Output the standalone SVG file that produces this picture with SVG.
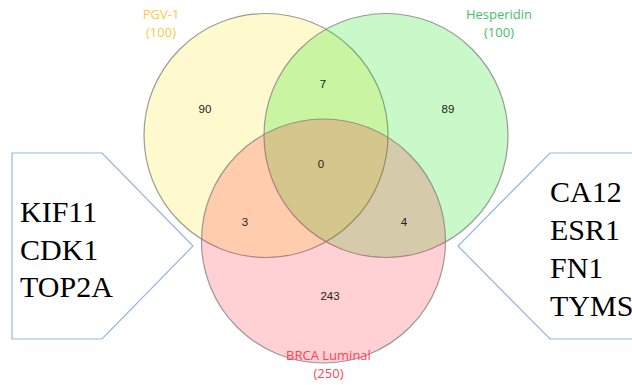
<svg xmlns="http://www.w3.org/2000/svg" width="632" height="385" viewBox="0 0 632 385">
<style>
.set{stroke:#8a8a8a;stroke-width:1.2;stroke-opacity:0.85}
.num{font-family:"Liberation Sans",Arial,sans-serif;font-size:11.5px;fill:#222;text-anchor:middle}
.lab{font-family:"Open Sans","Noto Sans",sans-serif;font-size:13px;text-anchor:middle}
.box{fill:#fff;stroke:#8fb7e3;stroke-width:1.2}
.gene{font-family:"Liberation Serif","Times New Roman",serif;font-size:30px;fill:#000}
</style>
<rect width="632" height="385" fill="#fff"/>
<g id="box-left">
<polygon class="box" points="12,153 102,153 193,246 102,339 12,339"/>
<text class="gene" x="20" y="222">KIF11</text>
<text class="gene" x="20" y="259.5">CDK1</text>
<text class="gene" x="20" y="297">TOP2A</text>
</g>
<g id="box-right">
<polygon class="box" points="640,153 550,153 458,246 550,339 640,339"/>
<text class="gene" x="550" y="202">CA12</text>
<text class="gene" x="550" y="240">ESR1</text>
<text class="gene" x="550" y="278">FN1</text>
<text class="gene" x="550" y="316">TYMS</text>
</g>
<g id="set-pgv1">
<circle class="set" cx="266" cy="135.5" r="122" fill="#ffeb3b" fill-opacity="0.25"/>
<text class="lab" x="161" y="19" fill="#ffc843">PGV-1</text>
<text class="lab" x="161" y="37" fill="#ffc843">(100)</text>
</g>
<g id="set-hesperidin">
<circle class="set" cx="386" cy="135.5" r="122" fill="#00e000" fill-opacity="0.21"/>
<text class="lab" x="499" y="19" fill="#45c068">Hesperidin</text>
<text class="lab" x="499" y="37" fill="#45c068">(100)</text>
</g>
<g id="set-brca">
<circle class="set" cx="323.5" cy="241" r="122" fill="#ff2a3a" fill-opacity="0.22"/>
<text class="lab" x="328.5" y="360" fill="#ff4255">BRCA Luminal</text>
<text class="lab" x="328.5" y="378" fill="#ff4255">(250)</text>
</g>
<g id="counts">
<text class="num" x="205" y="113">90</text>
<text class="num" x="323" y="88">7</text>
<text class="num" x="448" y="113">89</text>
<text class="num" x="321" y="168">0</text>
<text class="num" x="245" y="226">3</text>
<text class="num" x="404" y="226">4</text>
<text class="num" x="330" y="300">243</text>
</g>
<g id="connectors"></g>
</svg>
